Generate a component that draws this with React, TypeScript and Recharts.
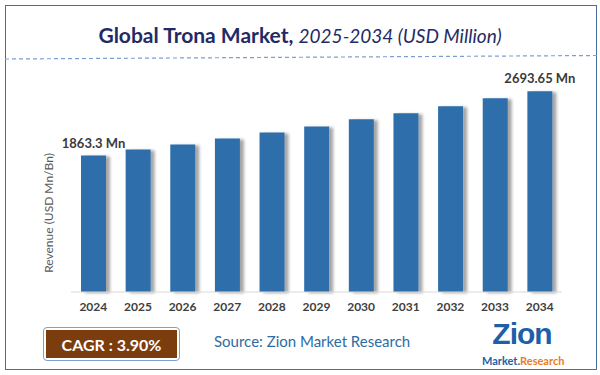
import { Bar, BarChart, LabelList, XAxis, YAxis } from "recharts";

const YEARS = ["2024", "2025", "2026", "2027", "2028", "2029", "2030", "2031", "2032", "2033", "2034"];
const REVENUE = [1863.3, 1941, 2005, 2083, 2160, 2238, 2332, 2409, 2500, 2603, 2693.65];
const LABELLED = [0, 10];
const CAGR = "3.90%";

const data = YEARS.map((year, i) => ({ year, revenue: REVENUE[i] }));

const FONT = "Lato, 'Open Sans', sans-serif";

function EndLabel(props: any) {
  const { x, y, width, value, index } = props;
  if (!LABELLED.includes(index)) return null;
  return (
    <text
      x={x + width / 2}
      y={y - 8}
      textAnchor="middle"
      fill="#3a3a3a"
      fontSize={13}
      fontWeight={700}
      fontFamily={FONT}
    >
      {`${value} Mn`}
    </text>
  );
}

export default function App() {
  return (
    <div
      style={{
        position: "absolute",
        left: 0,
        top: 0,
        width: 600,
        height: 375,
        background: "#fff",
        fontFamily: FONT,
        overflow: "hidden",
      }}
    >
      {/* frame */}
      <div
        style={{
          position: "absolute",
          left: 5,
          top: 5,
          width: 590,
          height: 363,
          border: "1.5px solid #47709e",
        }}
      />
      <div
        style={{
          position: "absolute",
          top: 22,
          left: 0,
          width: 600,
          textAlign: "center",
          color: "#1f2b66",
          whiteSpace: "nowrap",
        }}
      >
        <span style={{ fontSize: 21, fontWeight: 700 }}>Global Trona Market, </span>
        <span style={{ fontSize: 19, fontStyle: "italic" }}>2025-2034 (USD Million)</span>
      </div>
      <svg style={{ position: "absolute", left: 0, top: 0 }} width={600} height={375}>
        <line x1={5} y1={59} x2={597} y2={55.5} stroke="#7c9fd3" strokeWidth={1.2} strokeDasharray="4 3" />
      </svg>
      <div
        style={{
          position: "absolute",
          left: 48,
          top: 213,
          transform: "translate(-50%, -50%) rotate(-90deg)",
          fontSize: 12,
          color: "#595959",
          whiteSpace: "nowrap",
        }}
      >
        Revenue (USD Mn/Bn)
      </div>
      <div style={{ position: "absolute", left: 0, top: 0 }}>
        <BarChart width={600} height={375} data={data} margin={{ top: 83, right: 38, bottom: 63, left: 71 }}>
          <defs>
            <filter id="barShadow" x="-20%" y="-10%" width="160%" height="120%">
              <feDropShadow dx={4} dy={1} stdDeviation={1.8} floodColor="#000" floodOpacity={0.35} />
            </filter>
          </defs>
          <YAxis hide domain={[100, 2800]} />
          <XAxis
            dataKey="year"
            height={20}
            axisLine={{ stroke: "#d9d9d9" }}
            tickLine={false}
            tickMargin={4}
            tick={{ fill: "#404040", fontSize: 12, fontWeight: 700, fontFamily: FONT }}
            interval={0}
          />
          <Bar
            dataKey="revenue"
            fill="#2f6eab"
            barSize={25}
            filter="url(#barShadow)"
            isAnimationActive={false}
          >
            <LabelList dataKey="revenue" content={<EndLabel />} />
          </Bar>
        </BarChart>
      </div>
      {/* CAGR badge */}
      <div
        style={{
          position: "absolute",
          left: 43,
          top: 327,
          width: 131,
          height: 28,
          border: "1px solid #7aa0d0",
          borderRadius: 4,
          padding: 2,
          background: "#fff",
        }}
      >
        <div
          style={{
            width: "100%",
            height: "100%",
            background: "#7b3c0e",
            color: "#fff",
            fontWeight: 700,
            fontSize: 16,
            display: "flex",
            alignItems: "center",
            justifyContent: "center",
            whiteSpace: "nowrap",
          }}
        >
          {`CAGR : ${CAGR}`}
        </div>
      </div>
      <div
        style={{
          position: "absolute",
          left: 214,
          top: 332,
          fontSize: 15,
          color: "#2e6ca4",
          whiteSpace: "nowrap",
        }}
      >
        Source: Zion Market Research
      </div>
      {/* logo */}
      <div
        style={{
          position: "absolute",
          left: 482,
          top: 319,
          width: 80,
          height: 30,
          textAlign: "center",
          fontSize: 30,
          fontWeight: 900,
          color: "#1d5fa8",
          lineHeight: "30px",
          letterSpacing: -1,
          fontFamily: "'Liberation Sans', Arial, sans-serif",
        }}
      >
        Zion
      </div>
      <div
        style={{
          position: "absolute",
          left: 482,
          top: 355,
          width: 80,
          textAlign: "center",
          fontSize: 11,
          fontWeight: 700,
          lineHeight: "12px",
          whiteSpace: "nowrap",
        }}
      >
        <span style={{ color: "#1d5fa8" }}>Market.</span>
        <span style={{ color: "#e87e1c" }}>Research</span>
      </div>
    </div>
  );
}
